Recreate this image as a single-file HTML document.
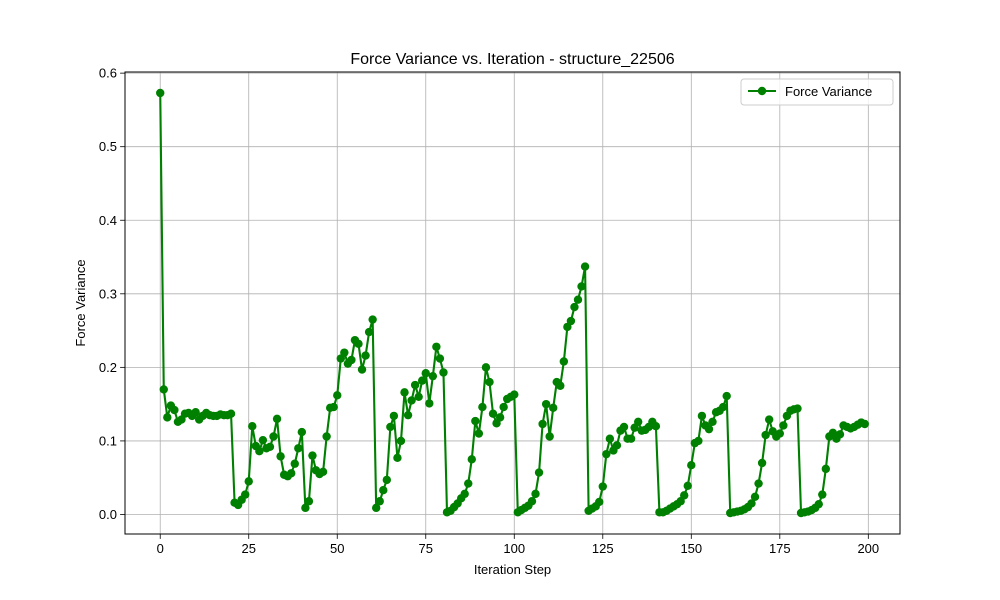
<!DOCTYPE html>
<html><head><meta charset="utf-8"><style>
html,body{margin:0;padding:0;background:#fff;}
svg{display:block;font-family:"Liberation Sans","DejaVu Sans",sans-serif;}
</style></head><body>
<svg id="chart" width="1000" height="600" viewBox="0 0 1000 600">
<rect x="0" y="0" width="1000" height="600" fill="#fff"/>
<g id="grid"></g>
<g id="series"></g>
<rect x="125" y="72" width="775" height="462" fill="none" stroke="#000" stroke-width="1"/>
<g id="xticks"></g>
<g id="yticks"></g>
<text x="512.5" y="64" text-anchor="middle" font-size="16">Force Variance vs. Iteration - structure_22506</text>
<text x="512.5" y="574" text-anchor="middle" font-size="13">Iteration Step</text>
<text x="85" y="303" text-anchor="middle" font-size="13" transform="rotate(-90 85 303)">Force Variance</text>
<g>
<rect x="741" y="79" width="152" height="26" rx="3" fill="#fff" fill-opacity="0.8" stroke="#ccc"/>
<g>
<line x1="748" y1="91" x2="776" y2="91" stroke="#008000" stroke-width="2.1"/>
<circle cx="762" cy="91" r="4.2" fill="#008000"/>
<text x="785" y="96" font-size="13">Force Variance</text>
</g>
</g>
</svg>
<script>
const iterations = [];
for (let i = 0; i < 200; i++) iterations.push(i);
const forceVariance = [
0.573,0.170,0.132,0.148,0.142,0.126,0.129,0.137,0.138,0.134,
0.139,0.129,0.134,0.138,0.135,0.134,0.134,0.136,0.135,0.135,
0.137,0.016,0.013,0.020,0.027,0.045,0.120,0.093,0.086,0.101,
0.090,0.092,0.106,0.130,0.079,0.054,0.052,0.056,0.069,0.090,
0.112,0.009,0.018,0.080,0.060,0.055,0.058,0.106,0.145,0.146,
0.162,0.212,0.220,0.205,0.210,0.237,0.232,0.197,0.216,0.248,
0.265,0.009,0.018,0.033,0.047,0.119,0.134,0.077,0.100,0.166,
0.135,0.155,0.176,0.160,0.182,0.192,0.151,0.188,0.228,0.212,
0.193,0.003,0.005,0.010,0.015,0.022,0.028,0.042,0.075,0.127,
0.110,0.146,0.200,0.180,0.137,0.124,0.132,0.146,0.157,0.160,
0.163,0.003,0.006,0.009,0.012,0.018,0.028,0.057,0.123,0.150,
0.106,0.145,0.180,0.175,0.208,0.255,0.263,0.282,0.292,0.310,
0.337,0.005,0.008,0.011,0.017,0.038,0.082,0.103,0.087,0.094,
0.114,0.119,0.103,0.103,0.118,0.126,0.114,0.115,0.119,0.126,
0.120,0.003,0.003,0.005,0.008,0.011,0.014,0.018,0.026,0.039,
0.067,0.097,0.100,0.134,0.121,0.116,0.126,0.139,0.141,0.146,
0.161,0.002,0.003,0.004,0.005,0.007,0.010,0.015,0.024,0.042,
0.070,0.108,0.129,0.113,0.106,0.110,0.121,0.134,0.141,0.143,
0.144,0.002,0.003,0.004,0.006,0.009,0.014,0.027,0.062,0.106,
0.111,0.103,0.109,0.121,0.119,0.117,0.119,0.122,0.125,0.123];
const xTickValues = [0,25,50,75,100,125,150,175,200];
const yTickValues = [0.0,0.1,0.2,0.3,0.4,0.5,0.6];
const yTickLabels = ["0.0","0.1","0.2","0.3","0.4","0.5","0.6"];

const NS = "http://www.w3.org/2000/svg";
const L=125,R=900,T=72,B=534;
const xmin=-9.95,xmax=208.95;
const dmin=Math.min(...forceVariance),dmax=Math.max(...forceVariance);
const ymin=dmin-0.05*(dmax-dmin),ymax=dmax+0.05*(dmax-dmin);
const xs=v=>L+(v-xmin)/(xmax-xmin)*(R-L);
const ys=v=>B-(v-ymin)/(ymax-ymin)*(B-T);
function mk(tag,attrs,parent){const e=document.createElementNS(NS,tag);for(const k in attrs)e.setAttribute(k,attrs[k]);parent.appendChild(e);return e;}
const grid=document.getElementById('grid'),xt=document.getElementById('xticks'),yt=document.getElementById('yticks'),ser=document.getElementById('series');
xTickValues.forEach(v=>{
  const x=xs(v);
  const g=mk('line',{x1:x,x2:x,y1:T,y2:B,stroke:'#b0b0b0','stroke-width':0.8},grid);
  
  
  const t=mk('line',{x1:x,x2:x,y1:B,y2:B+4.9,stroke:'#000','stroke-width':0.8},xt);
  
  
  const lb=mk('text',{x:x,y:B+19,'text-anchor':'middle','font-size':13},xt);
  lb.textContent=String(v);
  
  
});
yTickValues.forEach((v,i)=>{
  const y=ys(v);
  const g=mk('line',{x1:L,x2:R,y1:y,y2:y,stroke:'#b0b0b0','stroke-width':0.8},grid);
  
  
  const t=mk('line',{x1:L-4.9,x2:L,y1:y,y2:y,stroke:'#000','stroke-width':0.8},yt);
  
  
  const lb=mk('text',{x:L-8,y:y+4.5,'text-anchor':'end','font-size':13},yt);
  lb.textContent=yTickLabels[i];
  
  
});
const pts=forceVariance.map((v,i)=>xs(iterations[i]).toFixed(2)+','+ys(v).toFixed(2)).join(' ');
const line=mk('polyline',{points:pts,fill:'none',stroke:'#008000','stroke-width':2.1,'stroke-linejoin':'round'},ser);


forceVariance.forEach((v,i)=>{
  const c=mk('circle',{cx:xs(iterations[i]),cy:ys(v),r:4.2,fill:'#008000'},ser);
  
  
});
</script>
</body></html>
